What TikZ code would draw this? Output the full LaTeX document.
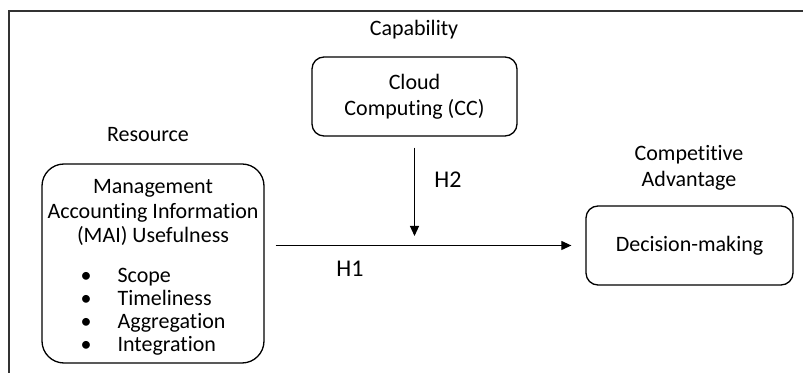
\documentclass[tikz,border=0pt]{standalone}
\usepackage{fontspec}
\setmainfont{Carlito}[Ligatures=NoCommon]
\usetikzlibrary{arrows.meta}
\begin{document}
\begin{tikzpicture}[x=0.5pt,y=0.5pt]
  \tikzstyle{every node}+=[inner sep=0pt, font=\fontsize{11}{13}\selectfont]
  \tikzstyle{roundbox}=[draw=black, line width=0.65pt, rounded corners=6pt, align=center]
  \tikzstyle{link}=[draw=black, line width=0.55pt, -{Triangle[length=5pt,width=4.5pt]}]
  \useasboundingbox (0,0) rectangle (803,-373);
  \draw [black!80, line width=0.65pt] (9,-373) -- (9,-11) -- (803,-11);
  \draw (414,-30) node (capability) {Capability};
  \draw (414.5,-96.5) node [roundbox, minimum width=102.5pt, minimum height=39.5pt] (cc) {Cloud\\Computing (CC)};
  \draw (148,-135) node (resource) {Resource};
  \draw (153,-263.5) node [roundbox, rounded corners=11pt, minimum width=111pt, minimum height=99.5pt] (mai)
    {\fontsize{11}{12.25}\selectfont
     \begin{tabular}{@{}c@{}}
       \rule{0pt}{12.6pt}Management\\
       Accounting Information\\
       (MAI) Usefulness\\[7.75pt]
       \fontsize{11}{11.5}\selectfont
       \begin{tabular}[t]{@{}l@{\hspace{13pt}}l@{}}
         • & Scope\\
         • & Timeliness\\
         • & Aggregation\\
         • & Integration
       \end{tabular}
     \end{tabular}};
  \draw (689,-168) node [align=center] (compadv) {Competitive\\Advantage};
  \draw (689.5,-245.5) node [roundbox, minimum width=103.5pt, minimum height=39.5pt] (dm) {Decision-making};
  \draw [link, shorten <=5.5pt, shorten >=7pt] (mai.east |- dm.west) -- (dm.west);
  \draw [link, shorten <=5.5pt, shorten >=4.75pt] (cc.south) -- (cc.south |- dm.west);
  \draw (448,-180) node [font=\fontsize{12}{14}\selectfont] (htwo) {H2};
  \draw (350,-269) node [font=\fontsize{12}{14}\selectfont] (hone) {H1};
\end{tikzpicture}
\end{document}
